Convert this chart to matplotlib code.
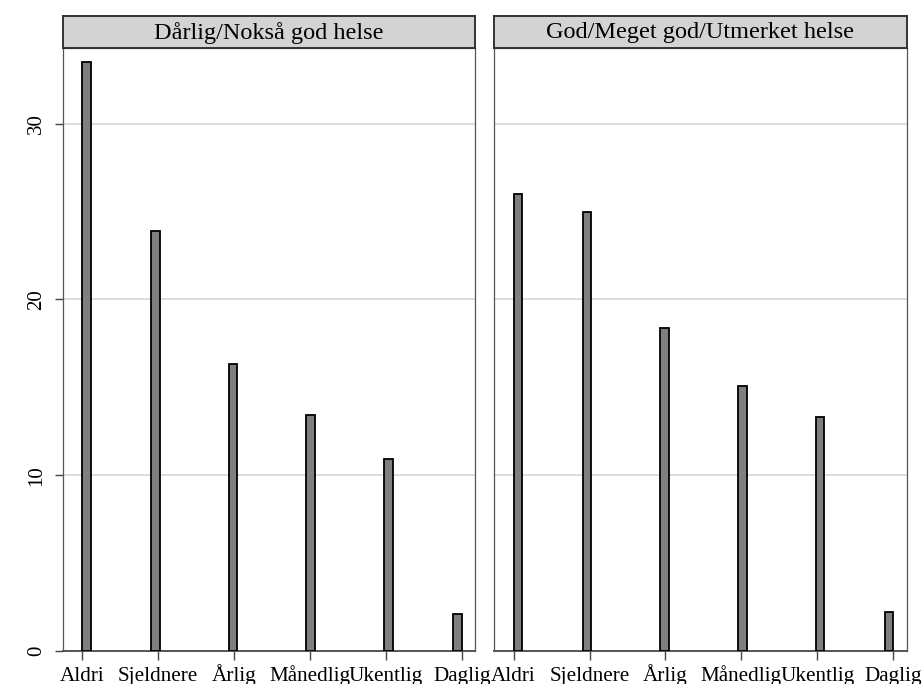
import matplotlib.pyplot as plt
import numpy as np

plt.rcParams['font.family'] = ['Liberation Serif', 'DejaVu Serif']

categories = ['Aldri', 'Sjeldnere', 'Årlig', 'Månedlig', 'Ukentlig', 'Daglig']
codes = [1, 2, 3, 4, 5, 6]
panel_titles = ['Dårlig/Nokså god helse', 'God/Meget god/Utmerket helse']
pct_poor = [33.5, 23.9, 16.3, 13.4, 10.9, 2.1]
pct_good = [26.0, 25.0, 18.4, 15.1, 13.3, 2.2]
yticks = [0, 10, 20, 30]

# histogram bins over the 1-6 scale (last bin is closed on the right)
bins = np.linspace(1, 6, 45)

fig = plt.figure(figsize=(9.23, 6.84), dpi=100)

panel_x = [0.0679, 0.5355]
pw = 0.4467
pb, ph = 0.0482, 0.8816
strip_b, strip_h = 0.9298, 0.0468

for i, (title, vals) in enumerate(zip(panel_titles, [pct_poor, pct_good])):
    ax = fig.add_axes([panel_x[i], pb, pw, ph])
    counts, edges = np.histogram(codes, bins=bins, weights=vals)
    keep = counts > 0
    bw = edges[1] - edges[0]
    ax.bar(edges[:-1][keep], counts[keep], width=bw, align='edge',
           color='#7f7f7f', edgecolor='black', linewidth=1.3, zorder=3)

    ax.set_xlim(0.746, 6.175)
    ax.set_ylim(0, 34.3)
    ax.set_xticks(codes)
    ax.set_xticklabels(categories, fontsize=15.2, va='baseline')
    ax.set_yticks(yticks)
    ax.grid(axis='y', color='#dcdcdc', linewidth=1.4)
    ax.set_axisbelow(True)
    ax.tick_params(axis='x', length=6.5, width=1, color='#444444', pad=15)
    if i == 0:
        ax.set_yticklabels([str(t) for t in yticks], rotation=90,
                           va='center', fontsize=15)
        ax.tick_params(axis='y', length=6, width=1, color='#444444', pad=6)
    else:
        ax.tick_params(axis='y', length=0, labelleft=False)

    for side in ['left', 'right', 'top']:
        ax.spines[side].set_color('#555555')
        ax.spines[side].set_linewidth(0.9)
    ax.spines['bottom'].set_color('#555555')
    ax.spines['bottom'].set_linewidth(1.4)

    # panel header strip
    hs = fig.add_axes([panel_x[i], strip_b, pw, strip_h])
    hs.set_facecolor('#d3d3d3')
    hs.set_xticks([])
    hs.set_yticks([])
    for sp in hs.spines.values():
        sp.set_color('#333333')
        sp.set_linewidth(1.4)
    hs.text(0.5, 0.47, title, ha='center', va='center', fontsize=17.5,
            transform=hs.transAxes)

fig.savefig('out.png', dpi=100)
